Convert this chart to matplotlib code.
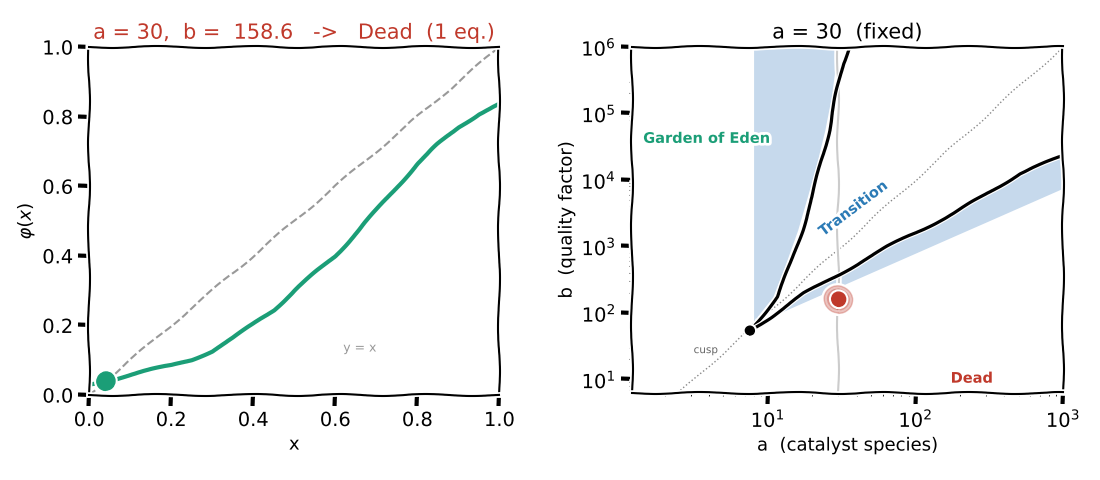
import matplotlib
matplotlib.use("Agg")
import matplotlib.pyplot as plt
import numpy as np

# left panel: phi(x) for a = 30, b = 158.6
x_vals = [0.0, 0.04, 0.1, 0.15, 0.2, 0.25, 0.3, 0.35, 0.4, 0.45, 0.5, 0.55,
          0.6, 0.65, 0.7, 0.75, 0.8, 0.85, 0.9, 0.95, 1.0]
phi_vals = [0.03, 0.04, 0.058, 0.072, 0.085, 0.102, 0.127, 0.163, 0.203, 0.245,
            0.30, 0.35, 0.40, 0.465, 0.53, 0.598, 0.665, 0.72, 0.77, 0.808, 0.835]
fixed_x = 0.04
fixed_y = 0.04

# right panel: regions in the (a, b) plane
a_fixed = 30
b_now = 158.6
cusp_a = 7.55
cusp_b = 53.6
upper_a = [7.55, 11.6, 14.3, 17.1, 20.0, 22.8, 26.0, 28.8, 32.4, 35.3]
upper_b = [53.6, 174, 552, 1750, 5550, 1.76e4, 5.6e4, 1.77e5, 5.6e5, 1e6]
lower_a = [7.55, 10.5, 17.6, 31.1, 64.4, 108, 182, 305, 512, 1000]
lower_b = [53.6, 87, 195, 391, 982, 1750, 3120, 6240, 1.25e4, 2.3e4]

# shaded areas
eden_b = [69, 174, 552, 1750, 5550, 1.76e4, 5.6e4, 1.77e5, 5.6e5, 1e6]
eden_right = [7.76, 10.8, 13.2, 15.9, 18.5, 21.4, 24.3, 26.9, 28.8, 29.6]
eden_left = 8.0
band_a = [10.5, 17.6, 31.1, 64.4, 108, 182, 305, 512, 1000]
band_hi = [87, 195, 391, 982, 1750, 3120, 6240, 1.25e4, 2.2e4]
band_lo = [87.5, 145, 253, 515, 853, 1422, 2350, 3900, 7500]

diag_a = [1.2, 1000]
diag_b = [1.44, 1e6]

red = '#c0392b'
green = '#1b9e77'
blue = '#2c7bb6'
fill_c = '#c6d9ec'

with plt.xkcd():
    plt.rcParams['font.family'] = ['DejaVu Sans']
    fig = plt.figure(figsize=(11, 4.8), dpi=100)

    # ---- left
    ax1 = fig.add_axes([0.081, 0.177, 0.373, 0.725])
    ax1.plot([0, 1], [0, 1], '--', color='#999999', lw=1.5)
    ax1.plot(x_vals, phi_vals, color=green, lw=3)
    ax1.plot(fixed_x, fixed_y, 'o', color=green, ms=13)
    ax1.text(0.66, 0.135, 'y = x', color='#999999', fontsize=9, ha='center', va='center')
    ax1.set_xlim(0, 1)
    ax1.set_ylim(0, 1)
    ax1.set_xticks(np.arange(0, 1.01, 0.2))
    ax1.set_yticks(np.arange(0, 1.01, 0.2))
    ax1.tick_params(labelsize=14)
    ax1.set_xlabel('x', fontsize=13)
    ax1.set_ylabel(r'$\varphi(x)$', fontsize=13)
    ax1.set_title('a = 30,  b =  158.6   ->   Dead  (1 eq.)', color=red, fontsize=15)

    # ---- right
    ax2 = fig.add_axes([0.5745, 0.181, 0.392, 0.7215])
    ax2.set_xscale('log')
    ax2.set_yscale('log')
    ax2.fill_betweenx(eden_b, eden_left, eden_right, color=fill_c, lw=0)
    ax2.fill_between(band_a, band_lo, band_hi, color=fill_c, lw=0)
    ax2.plot(diag_a, diag_b, ':', color='#888888', lw=1)
    ax2.axvline(a_fixed, color='#cccccc', lw=1.5)
    ax2.plot(upper_a, upper_b, color='black', lw=2.3)
    ax2.plot(lower_a, lower_b, color='black', lw=2.3)
    ax2.plot(cusp_a, cusp_b, 'o', color='black', ms=6)
    ax2.plot(a_fixed, b_now, 'o', color=red, ms=20, alpha=0.3)
    ax2.plot(a_fixed, b_now, 'o', color=red, ms=10)
    ax2.text(1.43, 4.2e4, 'Garden of Eden', color=green, fontsize=10.5,
             fontweight='bold', ha='left', va='center')
    ax2.text(38, 3750, 'Transition', color=blue, fontsize=10.5, fontweight='bold',
             rotation=37, ha='center', va='center')
    ax2.text(241, 10.4, 'Dead', color=red, fontsize=10.5, fontweight='bold',
             ha='center', va='center')
    ax2.text(3.8, 27.5, 'cusp', color='#666666', fontsize=7.5, ha='center', va='center')
    ax2.set_xlim(1.2, 1000)
    ax2.set_ylim(6.2, 1e6)
    ax2.tick_params(labelsize=14)
    ax2.set_xlabel('a  (catalyst species)', fontsize=13)
    ax2.set_ylabel('b  (quality factor)', fontsize=13)
    ax2.set_title('a = 30  (fixed)', fontsize=15)

    fig.savefig('out.png', dpi=100)
